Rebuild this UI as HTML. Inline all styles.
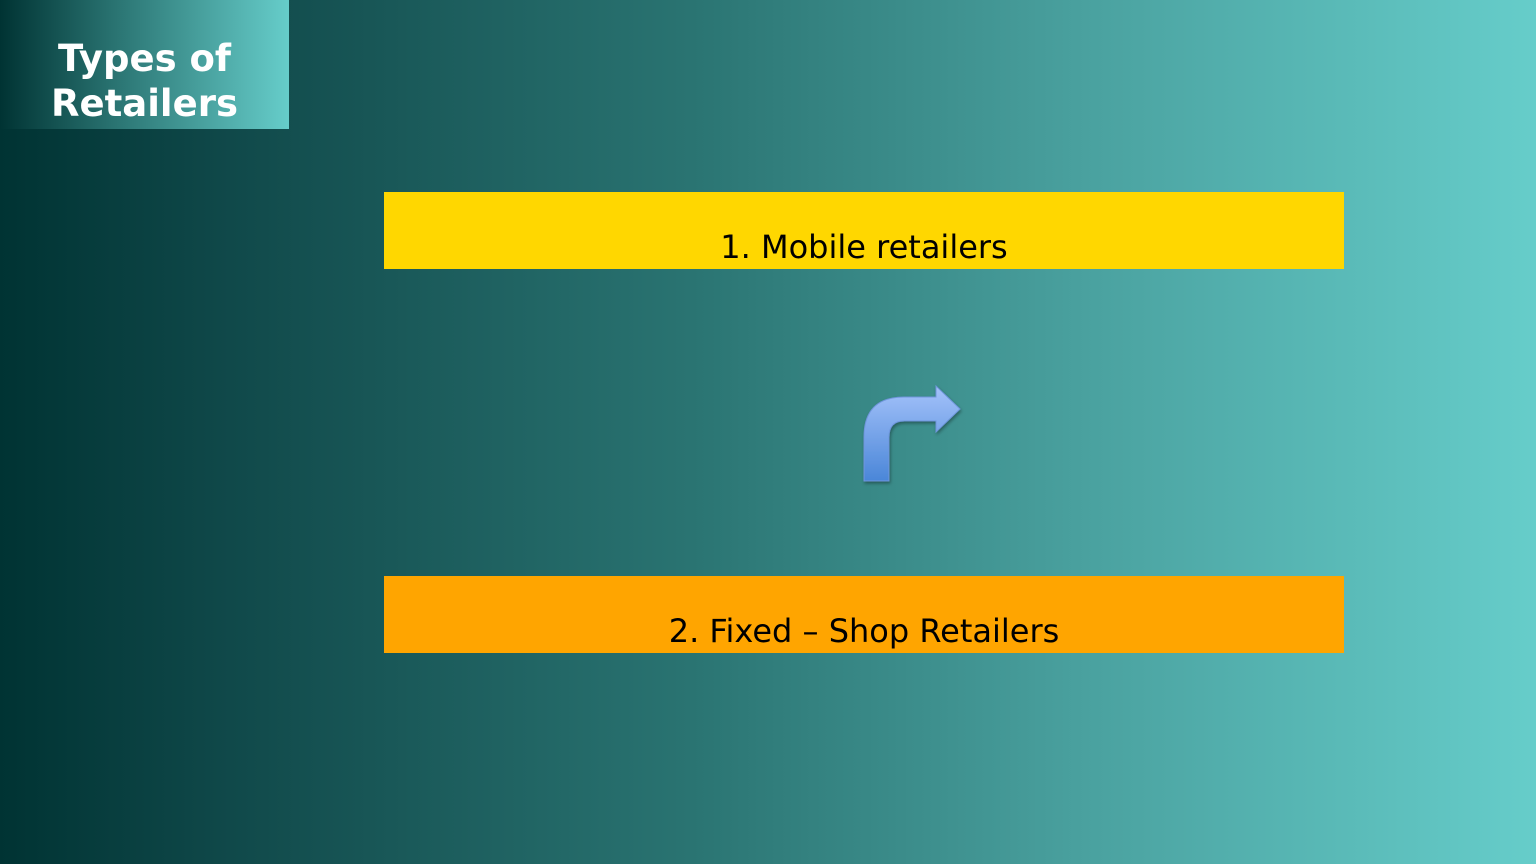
<!DOCTYPE html>
<html><head><meta charset="utf-8"><style>
html,body{margin:0;padding:0}
body{width:1536px;height:864px;overflow:hidden;position:relative;
background:linear-gradient(to right,#003333 0%,#10494a 15%,#2a7472 45%,#49a09e 70%,#66cdca 100%);
font-family:"DejaVu Sans","Liberation Sans",sans-serif}
.title{position:absolute;left:0;top:0;width:289px;height:129px;
background:linear-gradient(to right,#003333 0%,#2a7472 40%,#66cdca 100%);
color:#fff;font-weight:bold;font-size:37px;line-height:45px;text-align:center;box-sizing:border-box;padding-top:36px}
.bar{position:absolute;left:384px;width:960px;height:77px;font-size:32px;color:#000;text-align:center;line-height:32px;box-sizing:border-box;padding-top:39px}
</style></head><body>
<div class="title">Types of<br>Retailers</div>
<div class="bar" style="top:192px;background:#ffd700">1. Mobile retailers</div>
<div class="bar" style="top:576px;background:#ffa500">2. Fixed – Shop Retailers</div>
<svg style="position:absolute;left:0;top:0" width="1536" height="864">
<defs><linearGradient id="g" x1="0" y1="0" x2="0" y2="1">
<stop offset="0" stop-color="#a4c2fa"/><stop offset="1" stop-color="#4a86d8"/></linearGradient>
<filter id="s"><feDropShadow dx="1" dy="2" stdDeviation="1.5" flood-color="#000" flood-opacity="0.35"/></filter></defs>
<path filter="url(#s)" fill="url(#g)" stroke="#6f96dc" stroke-width="1" d="M864,481 L864,437 Q864,397 904,397 L936,397 L936,386 L960,409 L936,432 L936,421 L904,421 Q889,421 889,437 L889,481 Z"/>
</svg>
</body></html>
